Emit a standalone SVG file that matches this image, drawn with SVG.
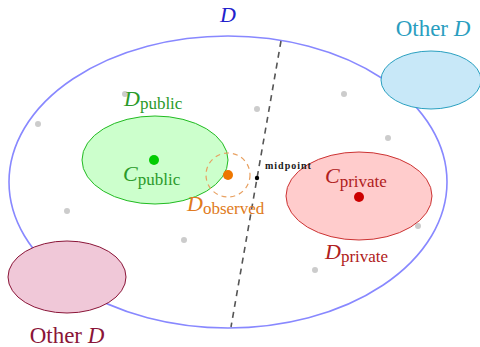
<svg xmlns="http://www.w3.org/2000/svg" width="480" height="347" viewBox="0 0 480 347">
<style>
text{font-family:"Liberation Serif","DejaVu Serif",serif;}
.it{font-style:italic;font-size:22px;}
.sub{font-size:17px;}
.gray{fill:#cccccc;}
</style>
<rect width="480" height="347" fill="#ffffff"/>
<g id="grayDots">
<circle class="gray" cx="38" cy="124" r="3"/>
<circle class="gray" cx="125" cy="94" r="3"/>
<circle class="gray" cx="257" cy="109" r="3"/>
<circle class="gray" cx="344" cy="94" r="3"/>
<circle class="gray" cx="388" cy="138" r="3"/>
<circle class="gray" cx="67" cy="211" r="3"/>
<circle class="gray" cx="418" cy="226" r="3"/>
<circle class="gray" cx="184" cy="240" r="3"/>
<circle class="gray" cx="315" cy="270" r="3"/>
</g>
<g id="D">
<ellipse cx="228" cy="182" rx="219" ry="146" fill="none" stroke="#8888ff" stroke-width="1.6"/>
<text x="228" y="22" text-anchor="middle" class="it" fill="#2222cc">D</text>
</g>
<g id="otherD_top">
<ellipse cx="431" cy="80" rx="50" ry="29" fill="#c8e8f8" stroke="#2aa0c0" stroke-width="1"/>
<text x="433" y="36" text-anchor="middle" font-size="23" fill="#2a9ec0">Other <tspan font-style="italic">D</tspan></text>
</g>
<g id="otherD_bottom">
<ellipse cx="67" cy="277" rx="59" ry="36" fill="#f0c8d8" stroke="#8a1538" stroke-width="1"/>
<text x="67" y="343" text-anchor="middle" font-size="23" fill="#8a1538">Other <tspan font-style="italic">D</tspan></text>
</g>
<g id="Dpublic">
<ellipse cx="155" cy="160" rx="73" ry="44" fill="#ccffcc" stroke="#22bb22" stroke-width="1"/>
<text x="124" y="106" fill="#2a9a2a"><tspan class="it">D</tspan><tspan class="sub" dy="3">public</tspan></text>
</g>
<g id="Cpublic">
<circle cx="154" cy="160" r="5" fill="#00cc00"/>
<text x="123" y="181" fill="#2a9a2a"><tspan class="it">C</tspan><tspan class="sub" dy="4">public</tspan></text>
</g>
<g id="Dprivate">
<ellipse cx="359" cy="196" rx="73" ry="44" fill="#ffcccc" stroke="#cc3333" stroke-width="1"/>
<text x="325" y="259" fill="#b02020"><tspan class="it">D</tspan><tspan class="sub" dy="3">private</tspan></text>
</g>
<g id="Cprivate">
<circle cx="359" cy="197" r="5" fill="#cc0000"/>
<text x="325" y="183" fill="#b02020"><tspan class="it">C</tspan><tspan class="sub" dy="4">private</tspan></text>
</g>
<g id="connectors">
<line x1="281" y1="41" x2="231" y2="327" stroke="#555555" stroke-width="1.6" stroke-dasharray="6,5"/>
</g>
<g id="Dobserved">
<circle cx="228" cy="175" r="22" fill="none" stroke="#e8a060" stroke-width="1.2" stroke-dasharray="5,4"/>
<circle cx="228" cy="175" r="5" fill="#ee7700"/>
<text x="187" y="211" fill="#e07a20"><tspan class="it">D</tspan><tspan class="sub" dy="3">observed</tspan></text>
</g>
<g id="midpoint">
<circle cx="257" cy="178" r="2.2" fill="#000000"/>
<text x="265" y="169" font-family="DejaVu Serif" font-size="10" font-weight="bold" letter-spacing="1" fill="#1a1a1a">midpoint</text>
</g>
</svg>
